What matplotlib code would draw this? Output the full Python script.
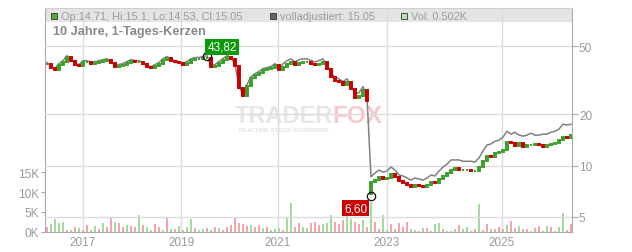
import matplotlib.pyplot as plt
from matplotlib.patches import Rectangle
from matplotlib.ticker import NullLocator
import numpy as np

plt.rcParams['font.family'] = ['Liberation Sans', 'DejaVu Sans']

closes = [39.3, 37.2, 36.2, 38.7, 40.3, 43.1, 40.9, 38.7, 38.2, 40.3,
          40.3, 39.3, 39.8, 40.3, 40.9, 41.4, 39.8, 37.7, 38.2, 38.7,
          39.8, 40.9, 40.3, 40.3, 39.3, 37.7, 37.2, 38.2, 39.3, 41.4,
          42.6, 40.9, 40.3, 39.8, 38.7, 39.8, 41.4, 42.0, 42.0, 42.6,
          43.0, 37.7, 38.2, 39.8, 41.4, 43.1, 42.0, 38.2, 28.4, 25.5,
          29.2, 32.5, 33.8, 34.8, 36.2, 36.7, 37.2, 38.7, 36.2, 37.7,
          39.3, 40.3, 38.7, 39.8, 40.3, 40.3, 39.3, 38.7, 39.3, 40.3,
          36.7, 33.3, 31.2, 30.8, 29.6, 30.8, 28.1, 25.1, 25.5, 27.7,
          24.0, 8.0, 8.23, 8.58, 8.35, 8.46, 8.93, 8.58, 8.12, 7.90,
          7.69, 7.49, 7.69, 7.59, 7.49, 7.69, 8.01, 7.90, 8.35, 8.70,
          9.04, 9.42, 9.68, 9.42, 9.42, 9.42, 9.29, 9.29, 9.81, 10.6,
          11.4, 11.2, 11.8, 12.0, 12.4, 13.7, 13.5, 13.0, 13.5, 12.8,
          13.2, 13.2, 13.4, 13.2, 12.8, 13.2, 13.4, 13.5, 14.1, 14.7,
          14.5, 15.05]
gap_open = {81: 6.8}

# "volladjustiert" line
adjusted = [40.3, 38.1, 37.1, 39.7, 41.3, 44.2, 41.9, 39.7, 39.2, 41.3,
            41.3, 40.3, 40.8, 41.3, 41.9, 42.4, 40.8, 38.6, 39.2, 39.7,
            40.8, 41.9, 41.3, 41.3, 40.3, 38.6, 38.1, 39.2, 40.3, 42.4,
            43.7, 41.9, 41.3, 40.8, 39.7, 40.8, 42.4, 43.1, 43.1, 43.7,
            44.1, 38.6, 39.2, 40.8, 42.4, 44.2, 43.1, 39.2, 29.1, 26.1,
            29.9, 33.3, 34.6, 35.7, 37.1, 37.6, 38.1, 39.7, 37.1, 39.6,
            41.3, 42.3, 40.6, 41.8, 42.3, 42.3, 41.3, 40.6, 41.3, 42.3,
            38.5, 35.0, 32.8, 32.3, 31.1, 32.3, 29.5, 26.4, 26.8, 29.1,
            25.2, 8.6, 9.04, 9.42, 9.16, 9.29, 9.81, 9.42, 8.81, 8.70,
            8.46, 8.23, 8.46, 8.35, 8.23, 8.46, 8.81, 8.70, 9.29, 9.81,
            10.2, 10.8, 10.8, 10.8, 10.6, 10.6, 10.6, 10.5, 11.1, 12.2,
            13.2, 13.4, 13.9, 14.1, 14.7, 15.9, 15.3, 15.7, 15.1, 14.9,
            15.1, 15.5, 15.1, 15.1, 15.3, 15.3, 15.7, 15.9, 16.4, 17.5,
            17.3, 17.5]

# volume in K, and side (g = up day, r = down day)
volume_k = [1.25, 2.1, 3.2, 2.3, 2.5, 0.6, 0.5, 1.25, 1.0, 0.5,
            1.7, 0.6, 1.5, 0.8, 2.3, 1.25, 3.75, 2.5, 2.3, 1.25,
            1.7, 1.5, 1.25, 4.2, 1.7, 1.25, 0.6, 2.1, 1.25, 0.5,
            3.5, 0.7, 0.8, 1.5, 0.6, 1.25, 3.2, 1.0, 0.5, 0.8,
            1.0, 0.5, 1.25, 1.0, 0.6, 1.25, 1.7, 3.5, 2.3, 2.1,
            1.5, 1.7, 1.25, 1.7, 1.0, 1.25, 0.6, 0.8, 1.0, 0.6,
            3.75, 7.3, 1.25, 2.3, 1.25, 1.0, 2.3, 2.5, 1.7, 2.1,
            2.3, 4.2, 2.5, 2.1, 2.9, 7.1, 3.3, 2.5, 2.1, 2.9,
            1.3, 7.5, 2.5, 0.8, 4.3, 0.4, 2.1, 0.8, 2.3, 1.3,
            2.5, 0.8, 0.4, 0.3, 1.0, 1.0, 0.3, 2.1, 2.3, 0.8,
            0.3, 0.2, 0.7, 1.8, 0.8, 1.3, 0.3, 0.8, 7.1, 0.4,
            2.1, 0.8, 0.7, 1.3, 0.8, 1.7, 2.7, 1.0, 1.5, 0.8,
            0.8, 0.3, 1.0, 1.5, 0.3, 1.5, 1.3, 0.3, 1.3, 4.8,
            0.4, 2.1]
volume_side = ("rggggrgrgr" "rggrgrrgrr" "grrgrggrrg" "rgrgrggrgg"
               "rgrgrrrrrr" "rgrrgrgggr" "ggrrggrrrg" "ggrrrggrrg"
               "rgrrggrrrr" "rggrgrgggr" "grgrggrrgr" "rgrrrgrrgr"
               "rgrrggrrgg" "rr")

year_labels = ['2017', '2019', '2021', '2023', '2025']
year_pos = [9.0, 33.6, 57.75, 85.0, 113.75]
price_ticks = [5, 10, 20, 50]
vol_ticks = [0, 5, 10, 15]
hi_idx, hi_val = 40, 43.82
lo_idx, lo_val = 81, 6.60

GRID = '#dcdcdc'
AXC = '#aaaaaa'
TXT = '#9a9a9a'
UP, DOWN = '#3ea02c', '#cc0000'

fig = plt.figure(figsize=(6.32, 2.53), dpi=100)
ax = fig.add_axes([45 / 632, 20 / 253, 527 / 632, 224 / 253])
ax.set_xlim(-0.5, 131.25)
ax.set_ylim(0, 56)

# header band
ax.add_patch(Rectangle((0, 1 - 14 / 224), 1, 14 / 224, transform=ax.transAxes,
                       facecolor='#e4e4e4', edgecolor='none', zorder=0.5))
for p in year_pos:
    ax.axvline(p, color=GRID, lw=1, zorder=0.8)

# watermark (behind the data)
def fx(px):
    return px / 632

def fy(py):
    return 1 - py / 253

ax.text(fx(235), fy(123), 'TRADER', color='#e6e6e6', fontsize=17, fontweight='bold',
        va='baseline', ha='left', transform=fig.transFigure, zorder=0.6)
ax.text(fx(332), fy(123), 'FOX', color='#f6caca', fontsize=17.5, fontweight='bold',
        va='baseline', ha='left', transform=fig.transFigure, zorder=0.6)
ax.text(fx(239), fy(130), 'REALTIME STOCK SCREENING', color='#e2e2e2', fontsize=4.3,
        fontweight='bold', va='center', ha='left', transform=fig.transFigure, zorder=0.6)

# volume
x = np.arange(len(closes))
vcol = ['#a6d99e' if s == 'g' else '#f2a5ad' for s in volume_side]
ax.bar(x, volume_k, width=0.5, color=vcol, linewidth=0, zorder=1)

ax.set_yticks(vol_ticks)
ax.set_yticklabels([f'{v}K' for v in vol_ticks])
ax.set_xticks(year_pos)
ax.set_xticklabels(year_labels)
ax.tick_params(axis='y', colors=AXC, labelcolor=TXT, labelsize=8.5, length=3, pad=1)
ax.tick_params(axis='x', length=0, labelcolor=TXT, labelsize=8.5, pad=3)
for s in ['left', 'bottom', 'right']:
    ax.spines[s].set_color(AXC)
ax.spines['top'].set_color('#cfcfcf')

# price
pax = ax.twinx()
pax.set_yscale('log')
pax.set_ylim(4.08, 84.1)
pax.set_xlim(-0.5, 131.25)
for v in price_ticks:
    pax.axhline(v, color=GRID, lw=1, zorder=0.5)
pax.set_yticks(price_ticks)
pax.set_yticklabels([str(v) for v in price_ticks])
pax.yaxis.set_minor_locator(NullLocator())
pax.tick_params(axis='y', colors=AXC, labelcolor=TXT, labelsize=8.5, length=4, pad=1)
for s in pax.spines.values():
    s.set_visible(False)

pax.plot(x, adjusted, color='#808080', lw=1.1, zorder=2)

opens = [closes[0]] + closes[:-1]
for k, v in gap_open.items():
    opens[k] = v
lo = np.minimum(opens, closes)
hi = np.maximum(opens, closes)
ccol = [UP if c >= o else DOWN for o, c in zip(opens, closes)]
pax.bar(x, hi - lo, bottom=lo, width=0.6, color=ccol, edgecolor=ccol,
        linewidth=1.4, zorder=3)

# extreme markers
pax.plot([hi_idx, lo_idx], [hi_val, lo_val], 'o', ms=6, mfc='none', mec='#111111',
         mew=0.9, zorder=5)
pax.annotate('43,82', xy=(hi_idx, hi_val), xytext=(10.8, 6.8), textcoords='offset points',
             ha='center', va='center', color='white', fontsize=8.5, zorder=6,
             bbox=dict(boxstyle='square,pad=0.18', fc='#0a9a0a', ec='none'))
pax.annotate('6,60', xy=(lo_idx, lo_val), xytext=(-11.2, -8.6), textcoords='offset points',
             ha='center', va='center', color='white', fontsize=8.5, zorder=6,
             bbox=dict(boxstyle='square,pad=0.18', fc='#cc0000', ec='none'))

# header texts
for px, fc in [(50.5, '#4caf34'), (269.5, '#666666'), (400.5, '#b8e0b0')]:
    fig.patches.append(Rectangle((fx(px), fy(19.5)), 6 / 632, 6 / 253,
                                 transform=fig.transFigure, facecolor=fc,
                                 edgecolor='#333333', lw=0.6))
fig.text(fx(61), fy(16.5), 'Op:14.71, Hi:15.1, Lo:14.53, Cl:15.05', color=TXT,
         fontsize=7.9, va='center')
fig.text(fx(280), fy(16.5), 'volladjustiert: 15.05', color=TXT, fontsize=7.9, va='center')
fig.text(fx(411), fy(16.5), 'Vol: 0.502K', color=TXT, fontsize=7.9, va='center')
fig.text(fx(53.5), fy(32.5), '10 Jahre, 1-Tages-Kerzen', color='#888888',
         fontsize=9.2, fontweight='bold', va='center')

fig.savefig('out.png', dpi=100)
